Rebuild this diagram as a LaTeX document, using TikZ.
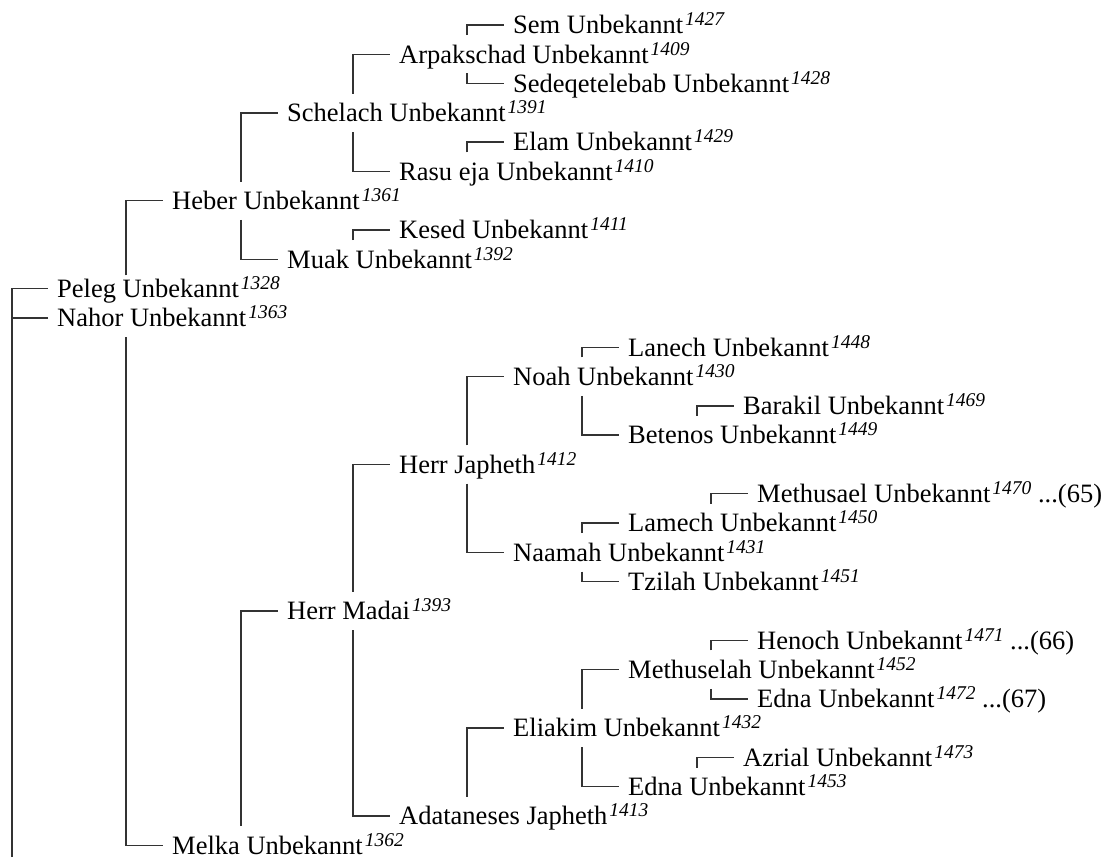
\documentclass[tikz,border=0pt]{standalone}
\usepackage{fontspec}
\setmainfont{Liberation Serif}
\usepackage{tikz}
\newcommand\nr[1]{\kern2pt\raisebox{8pt}{\fontsize{19.5}{19.5}\selectfont\itshape #1}}
\tikzset{
  pers/.style  = {anchor=west, inner xsep=9pt, inner ysep=8.75pt,
                  text height=19pt, text depth=1.5pt,
                  font=\fontsize{26.5}{30}\selectfont},
  linie/.style = {draw=black!80, line width=1.4pt},
}

\begin{document}
\begin{tikzpicture}[x=1pt, y=-29.3pt]
  \useasboundingbox (0,-0.853) rectangle (1112,28.498);

  \node[pers] (sem)           at (504,0)  {Sem Unbekannt\nr{1427}};
  \node[pers] (arpakschad)    at (390,1)  {Arpakschad Unbekannt\nr{1409}};
  \node[pers] (sedeqetelebab) at (504,2)  {Sedeqetelebab Unbekannt\nr{1428}};
  \node[pers] (schelach)      at (278,3)  {Schelach Unbekannt\nr{1391}};
  \node[pers] (elam)          at (504,4)  {Elam Unbekannt\nr{1429}};
  \node[pers] (rasueja)       at (390,5)  {Rasu eja Unbekannt\nr{1410}};
  \node[pers] (heber)         at (163,6)  {Heber Unbekannt\nr{1361}};
  \node[pers] (kesed)         at (390,7)  {Kesed Unbekannt\nr{1411}};
  \node[pers] (muak)          at (278,8)  {Muak Unbekannt\nr{1392}};
  \node[pers] (peleg)         at (48,9)   {Peleg Unbekannt\nr{1328}};
  \node[pers] (nahor)         at (48,10)  {Nahor Unbekannt\nr{1363}};
  \node[pers] (lanech)        at (619,11) {Lanech Unbekannt\nr{1448}};
  \node[pers] (noah)          at (504,12) {Noah Unbekannt\nr{1430}};
  \node[pers] (barakil)       at (734,13) {Barakil Unbekannt\nr{1469}};
  \node[pers] (betenos)       at (619,14) {Betenos Unbekannt\nr{1449}};
  \node[pers] (japheth)       at (390,15) {Herr Japheth\nr{1412}};
  \node[pers] (methusael)     at (748,16) {Methusael Unbekannt\nr{1470} ...(65)};
  \node[pers] (lamech)        at (619,17) {Lamech Unbekannt\nr{1450}};
  \node[pers] (naamah)        at (504,18) {Naamah Unbekannt\nr{1431}};
  \node[pers] (tzilah)        at (619,19) {Tzilah Unbekannt\nr{1451}};
  \node[pers] (madai)         at (278,20) {Herr Madai\nr{1393}};
  \node[pers] (henoch)        at (748,21) {Henoch Unbekannt\nr{1471} ...(66)};
  \node[pers] (methuselah)    at (619,22) {Methuselah Unbekannt\nr{1452}};
  \node[pers] (edna)          at (748,23) {Edna Unbekannt\nr{1472} ...(67)};
  \node[pers] (eliakim)       at (504,24) {Eliakim Unbekannt\nr{1432}};
  \node[pers] (azrial)        at (734,25) {Azrial Unbekannt\nr{1473}};
  \node[pers] (ednaB)         at (619,26) {Edna Unbekannt\nr{1453}};
  \node[pers] (adataneses)    at (390,27) {Adataneses Japheth\nr{1413}};
  \node[pers] (melka)         at (163,28) {Melka Unbekannt\nr{1362}};

  \coordinate (wurzel) at (12,28.4);

  % Wurzel
  \draw[linie] (wurzel) |- (peleg.west);
  \draw[linie] (nahor.west) -- (nahor.west -| wurzel);

  % obere Haelfte
  \draw[linie] (peleg.north -| heber.west) ++(-37,0.2) |- (heber.west);
  \draw[linie] (heber.north -| schelach.west) ++(-37,0) |- (schelach.west);
  \draw[linie] (heber.south -| muak.west) ++(-37,0) |- (muak.west);
  \draw[linie] (schelach.north -| arpakschad.west) ++(-37,0) |- (arpakschad.west);
  \draw[linie] (schelach.south -| rasueja.west) ++(-37,0) |- (rasueja.west);
  \draw[linie] (arpakschad.north -| sem.west) ++(-37,0) |- (sem.west);
  \draw[linie] (arpakschad.south -| sedeqetelebab.west) ++(-37,0) |- (sedeqetelebab.west);
  \draw[linie] (rasueja.north -| elam.west) ++(-37,0) |- (elam.west);
  \draw[linie] (muak.north -| kesed.west) ++(-37,0) |- (kesed.west);

  % untere Haelfte
  \draw[linie] (nahor.south -| melka.west) ++(-37,0) |- (melka.west);
  \draw[linie] (melka.north -| madai.west) ++(-37,0) |- (madai.west);
  \draw[linie] (madai.north -| japheth.west) ++(-37,0) |- (japheth.west);
  \draw[linie] (madai.south -| adataneses.west) ++(-37,0) |- (adataneses.west);
  \draw[linie] (japheth.north -| noah.west) ++(-37,0) |- (noah.west);
  \draw[linie] (japheth.south -| naamah.west) ++(-37,0) |- (naamah.west);
  \draw[linie] (noah.north -| lanech.west) ++(-37,0) |- (lanech.west);
  \draw[linie] (noah.south -| betenos.west) ++(-37,0) |- (betenos.west);
  \draw[linie] (betenos.north -| barakil.west) ++(-37,0) |- (barakil.west);
  \draw[linie] (naamah.north -| lamech.west) ++(-37,0) |- (lamech.west);
  \draw[linie] (naamah.south -| tzilah.west) ++(-37,0) |- (tzilah.west);
  \draw[linie] (lamech.north -| methusael.west) ++(-37,0) |- (methusael.west);
  \draw[linie] (adataneses.north -| eliakim.west) ++(-37,0) |- (eliakim.west);
  \draw[linie] (eliakim.north -| methuselah.west) ++(-37,0) |- (methuselah.west);
  \draw[linie] (eliakim.south -| ednaB.west) ++(-37,0) |- (ednaB.west);
  \draw[linie] (methuselah.north -| henoch.west) ++(-37,0) |- (henoch.west);
  \draw[linie] (methuselah.south -| edna.west) ++(-37,0) |- (edna.west);
  \draw[linie] (ednaB.north -| azrial.west) ++(-37,0) |- (azrial.west);

\end{tikzpicture}
\end{document}
